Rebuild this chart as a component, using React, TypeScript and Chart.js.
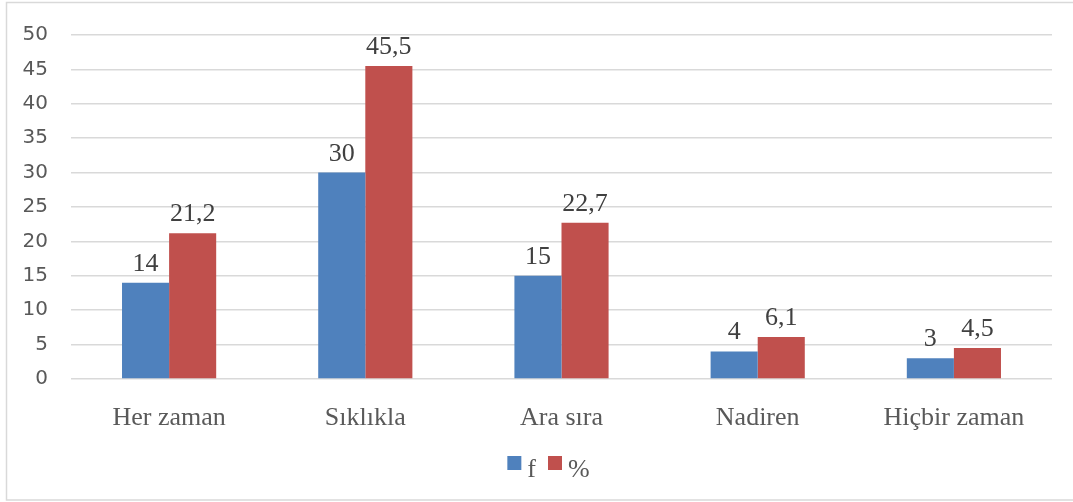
import React, { useEffect, useRef } from "react";
import { Chart, registerables } from "chart.js";

Chart.register(...registerables);

const categories = ["Her zaman", "Sıklıkla", "Ara sıra", "Nadiren", "Hiçbir zaman"];
const fValues = [14, 30, 15, 4, 3];
const pctValues = [21.2, 45.5, 22.7, 6.1, 4.5];
const seriesNames = ["f", "%"];
const seriesColors = ["#4F81BD", "#C0504D"];
const yTicks = [0, 5, 10, 15, 20, 25, 30, 35, 40, 45, 50];

const SERIF = "'Liberation Serif', 'Times New Roman', serif";
const SANS = "'DejaVu Sans', sans-serif";

const fmt = (v: number) => String(v).replace(".", ",");

const valueLabels = {
  id: "valueLabels",
  afterDatasetsDraw(chart: any) {
    const ctx = chart.ctx;
    ctx.save();
    ctx.font = `26px ${SERIF}`;
    ctx.fillStyle = "#404040";
    ctx.textAlign = "center";
    ctx.textBaseline = "alphabetic";
    chart.data.datasets.forEach((ds: any, i: number) => {
      const meta = chart.getDatasetMeta(i);
      meta.data.forEach((bar: any, j: number) => {
        ctx.fillText(fmt(ds.data[j]), bar.x, bar.y - 12);
      });
    });
    ctx.restore();
  },
};

const customLegend = {
  id: "customLegend",
  afterDraw(chart: any) {
    const ctx = chart.ctx;
    ctx.save();
    ctx.font = `26px ${SERIF}`;
    ctx.textBaseline = "alphabetic";
    const box = 14;
    const gap = 6;
    const itemGap = 12;
    const widths = seriesNames.map((n) => box + gap + ctx.measureText(n).width);
    const total = widths.reduce((a, b) => a + b, 0) + itemGap * (widths.length - 1);
    let x = 548.5 - total / 2;
    const boxTop = 456;
    seriesNames.forEach((n, i) => {
      ctx.fillStyle = seriesColors[i];
      ctx.fillRect(x, boxTop, box, box);
      ctx.fillStyle = "#595959";
      ctx.textAlign = "left";
      ctx.fillText(n, x + box + gap, 477);
      x += widths[i] + itemGap;
    });
    // outer border
    ctx.strokeStyle = "#d9d9d9";
    ctx.lineWidth = 1.5;
    ctx.strokeRect(6.5, 2.5, chart.width + 20, 497.5);
    ctx.restore();
  },
};

export default function App() {
  const ref = useRef<HTMLCanvasElement>(null);
  useEffect(() => {
    if (!ref.current) return;
    const chart = new Chart(ref.current, {
      type: "bar",
      data: {
        labels: categories,
        datasets: [
          { label: seriesNames[0], data: fValues, backgroundColor: seriesColors[0], barPercentage: 1, categoryPercentage: 0.48 },
          { label: seriesNames[1], data: pctValues, backgroundColor: seriesColors[1], barPercentage: 1, categoryPercentage: 0.48 },
        ],
      },
      options: {
        responsive: false,
        animation: false,
        layout: { padding: { left: 0, right: 21, top: 33, bottom: 0 } },
        plugins: { legend: { display: false }, tooltip: { enabled: false } },
        scales: {
          x: {
            grid: { display: false },
            border: { display: false },
            ticks: { font: { family: SERIF, size: 26 }, color: "#595959", padding: 16, maxRotation: 0 },
            afterFit: (s: any) => { s.height = 123; },
          },
          y: {
            min: 0,
            max: 50,
            afterBuildTicks: (s: any) => { s.ticks = yTicks.map((v) => ({ value: v })); },
            grid: { color: "#d9d9d9", lineWidth: 1.5, drawTicks: false },
            border: { display: false },
            ticks: { font: { family: SANS, size: 20 }, color: "#595959", padding: 23 },
            afterFit: (s: any) => { s.width = 71; },
          },
        },
      },
      plugins: [valueLabels, customLegend],
    });
    return () => chart.destroy();
  }, []);
  return (
    <div style={{ position: "absolute", left: 0, top: 0, width: 1073, height: 502, background: "#fff" }}>
      <canvas ref={ref} width={1073} height={502} style={{ display: "block" }} />
    </div>
  );
}
